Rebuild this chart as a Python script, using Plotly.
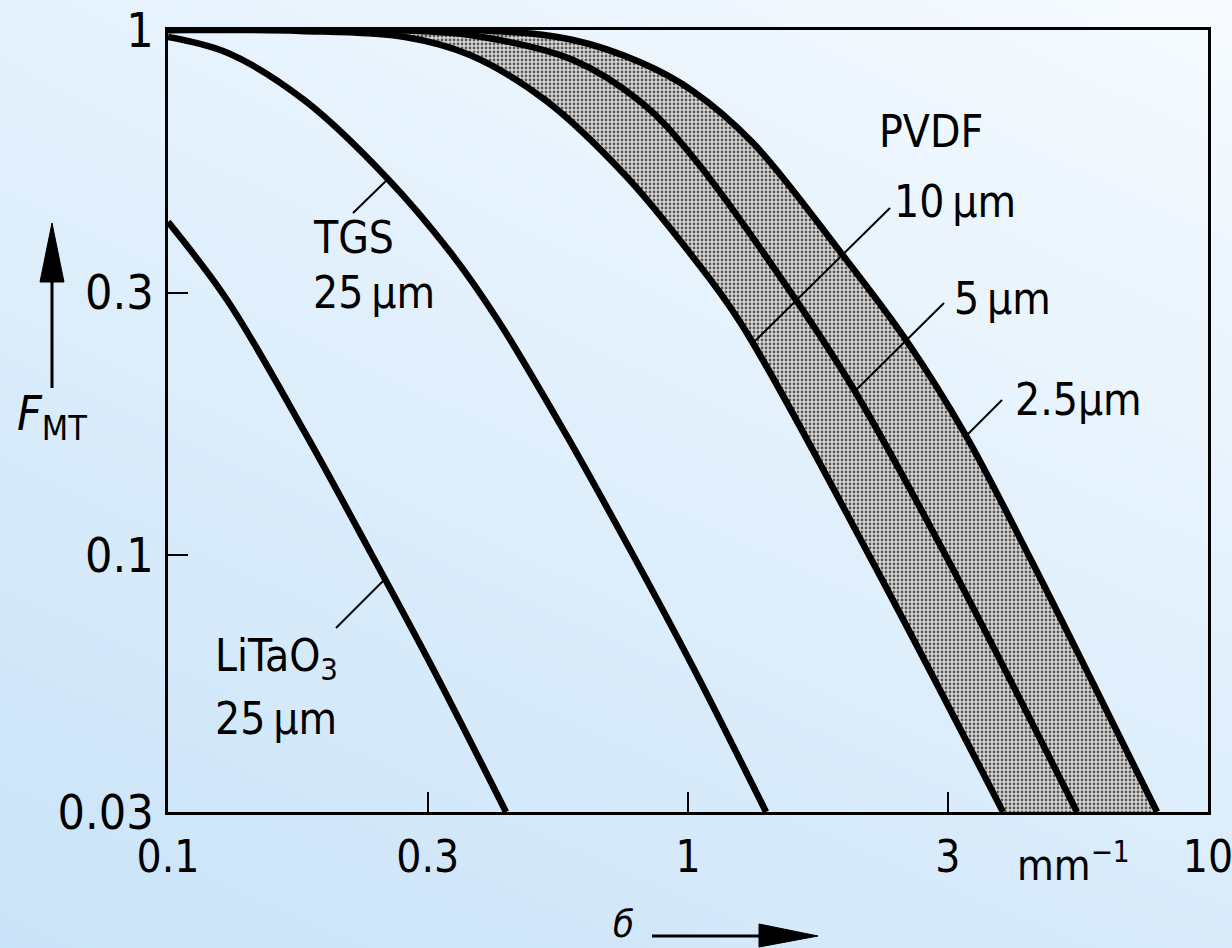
import math
import plotly.graph_objects as go

# ---------------- data ----------------
litao3_x = [0.1, 0.1299, 0.1834, 0.2467, 0.322, 0.4467]
litao3_y = [0.431, 0.306, 0.171, 0.1, 0.0612, 0.0324]

tgs_x = [0.1, 0.1304, 0.1826, 0.2626, 0.350, 0.431, 0.580, 0.784, 1.022, 1.413]
tgs_y = [0.970, 0.904, 0.736, 0.525, 0.376, 0.280, 0.171, 0.1, 0.0612, 0.0324]

pvdf10_x = [0.1, 0.1795, 0.2857, 0.3808, 0.5309, 0.7565, 1.004, 1.259, 2.239, 4.035]
pvdf10_y = [1.0, 0.996, 0.970, 0.896, 0.736, 0.5295, 0.378, 0.2779, 0.0991, 0.0324]

pvdf5_x = [0.1, 0.2793, 0.381, 0.601, 0.816, 1.022, 1.599, 2.076, 3.149, 5.598]
pvdf5_y = [1.0, 0.999, 0.978, 0.877, 0.726, 0.573, 0.310, 0.208, 0.0987, 0.0324]

pvdf25_x = [0.1, 0.398, 0.601, 0.816, 1.022, 1.334, 1.97, 2.626, 3.41, 4.548, 6.01, 7.98]
pvdf25_y = [1.0, 0.999, 0.957, 0.865, 0.765, 0.609, 0.376, 0.2568, 0.170, 0.0987, 0.057, 0.0324]

x_tickvals = [0.1, 0.316, 1, 3.16, 10]
x_ticktext = ["0.1", "0.3", "1", "3", "10"]
y_tickvals = [0.0324, 0.1, 0.316, 1]
y_ticktext = ["0.03", "0.1", "0.3", "1"]

x_range = [0.1, 10]
y_range = [0.0324, 1]
ref_x = 1.0     # dashed vertical line
ref_y = 0.1     # dashed horizontal line

# ---------------- layout helpers ----------------
W, H = 1232, 948
PL, PR, PT, PB = 168, 1208, 30, 812   # plot area (px)
FONT = "DejaVu Sans Condensed, Roboto, Liberation Sans, sans-serif"


def fx(p):
    return p / W


def fy(p):
    return 1 - p / H


fig = go.Figure()

# background gradient (full-paper heatmap underneath)
fig.add_trace(go.Heatmap(
    x=[0, 1], y=[0, 1], z=[[0.0, 0.35], [0.6, 1.0]], zsmooth="best",
    colorscale=[[0, "#c9e3f8"], [1, "#f7fbff"]], showscale=False,
    hoverinfo="skip", xaxis="x", yaxis="y"))

# shaded PVDF band (between 10 um and 2.5 um)
fig.add_trace(go.Scatter(
    x=pvdf10_x, y=pvdf10_y, mode="lines", line=dict(width=0, shape="spline"),
    hoverinfo="skip", xaxis="x2", yaxis="y2", showlegend=False))
fig.add_trace(go.Scatter(
    x=pvdf25_x, y=pvdf25_y, mode="lines", line=dict(width=0, shape="spline"),
    fill="tonexty", fillcolor="#d0d0d0",
    fillpattern=dict(shape=".", fgcolor="#5a5a5a", bgcolor="#d8d8d8", size=4, solidity=0.4),
    hoverinfo="skip", xaxis="x2", yaxis="y2", showlegend=False))

for xs, ys, name in [(litao3_x, litao3_y, "LiTaO3 25µm"),
                     (tgs_x, tgs_y, "TGS 25µm"),
                     (pvdf10_x, pvdf10_y, "PVDF 10µm"),
                     (pvdf5_x, pvdf5_y, "PVDF 5µm"),
                     (pvdf25_x, pvdf25_y, "PVDF 2.5µm")]:
    fig.add_trace(go.Scatter(
        x=xs, y=ys, mode="lines", name=name,
        line=dict(color="black", width=6.5, shape="spline", smoothing=1.0),
        xaxis="x2", yaxis="y2", showlegend=False))

shapes = [
    dict(type="line", xref="x2", yref="y2 domain", x0=math.log10(ref_x), x1=math.log10(ref_x),
         y0=0, y1=1, line=dict(color="black", width=2, dash="20px,9px")),
    dict(type="line", xref="x2 domain", yref="y2", x0=0, x1=1,
         y0=math.log10(ref_y), y1=math.log10(ref_y), line=dict(color="black", width=2, dash="22px,9px")),
]

# leader lines (px)
leaders = [((353, 213), (389, 178)),
           ((336, 628), (384, 580)),
           ((890, 208), (754, 342)),
           ((944, 303), (855, 391)),
           ((1002, 400), (967, 435))]
for (a, b) in leaders:
    shapes.append(dict(type="line", xref="paper", yref="paper",
                       x0=fx(a[0]), y0=fy(a[1]), x1=fx(b[0]), y1=fy(b[1]),
                       line=dict(color="black", width=2)))

# axis arrows
shapes.append(dict(type="line", xref="paper", yref="paper", x0=fx(52), x1=fx(52),
                   y0=fy(388), y1=fy(278), line=dict(color="black", width=3)))
shapes.append(dict(type="path", xref="paper", yref="paper",
                   path=f"M {fx(52)},{fy(223)} L {fx(40)},{fy(282)} L {fx(64)},{fy(282)} Z",
                   fillcolor="black", line=dict(color="black", width=1)))
shapes.append(dict(type="line", xref="paper", yref="paper", x0=fx(652), x1=fx(762),
                   y0=fy(936), y1=fy(936), line=dict(color="black", width=3)))
shapes.append(dict(type="path", xref="paper", yref="paper",
                   path=f"M {fx(818)},{fy(936)} L {fx(759)},{fy(924)} L {fx(759)},{fy(947)} Z",
                   fillcolor="black", line=dict(color="black", width=1)))

annotations = []


def label(text, x, y, size=44, anchor="center", yanchor="middle"):
    annotations.append(dict(text=text, x=fx(x), y=fy(y), xref="paper", yref="paper",
                            xanchor=anchor, yanchor=yanchor, showarrow=False,
                            font=dict(family=FONT, size=size, color="black")))


label("PVDF", 931, 132)
label("10\u2009µm", 955, 201)
label("5\u2009µm", 1002, 298)
label("2.5µm", 1078, 400)
label("TGS", 311, 238, anchor="left")
label("25\u2009µm", 311, 293, anchor="left")
label("LiTaO<sub>3</sub>", 213, 658, anchor="left")
label("25\u2009µm", 213, 718, anchor="left")
label("mm<sup>−1</sup>", 1073, 862, size=42)
label("<i>F</i><sub><span style='font-size:34px'>MT</span></sub>", 52, 416, size=48)
label("<i>б</i>", 624, 948, size=38, yanchor="bottom")

axis_common = dict(showgrid=False, zeroline=False, showline=True, linecolor="black",
                   linewidth=2.5, mirror=True, ticks="inside", ticklen=20, tickwidth=2,
                   tickcolor="black", type="log", automargin=False,
                   ticklabeloverflow="allow")

fig.update_layout(
    width=W, height=H,
    margin=dict(l=0, r=0, t=0, b=0, pad=0),
    paper_bgcolor="#e4f1fc", plot_bgcolor="rgba(0,0,0,0)",
    template="none", showlegend=False,
    xaxis=dict(domain=[0, 1], range=[0, 1], visible=False, fixedrange=True),
    yaxis=dict(domain=[0, 1], range=[0, 1], visible=False, fixedrange=True),
    xaxis2=dict(domain=[fx(PL), fx(PR)], anchor="y2",
                range=[math.log10(x_range[0]), math.log10(x_range[1])],
                tickvals=x_tickvals, ticktext=x_ticktext, ticklabelstandoff=4,
                tickfont=dict(family=FONT, size=44, color="black"), **axis_common),
    yaxis2=dict(domain=[fy(PB), fy(PT)], anchor="x2",
                range=[math.log10(y_range[0]), math.log10(y_range[1])],
                tickvals=y_tickvals, ticktext=y_ticktext, ticklabelstandoff=2,
                tickfont=dict(family=FONT, size=48, color="black"), **axis_common),
    shapes=shapes, annotations=annotations,
)

fig.write_html("out.html", config={"displayModeBar": False},
               post_script="document.body.style.margin='0px';document.body.style.overflow='hidden';")
